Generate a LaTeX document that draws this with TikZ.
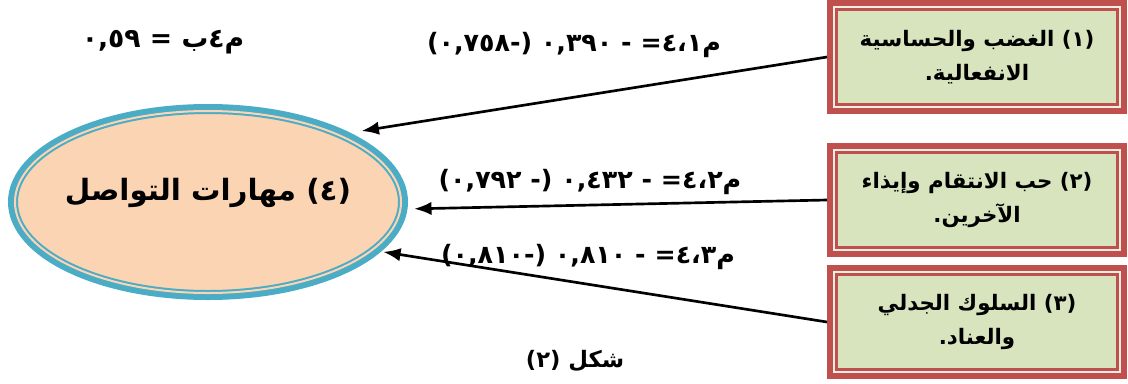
\documentclass[tikz,border=0pt]{standalone}
\usepackage{fontspec}
\usepackage{tikz}
\usetikzlibrary{shapes.geometric, arrows.meta, positioning}
\usepackage{xcolor}
\TeXXeTstate=1
\newfontfamily\arabicfont[Script=Arabic]{DejaVu Sans}
\definecolor{boxred}{RGB}{192,80,77}
\definecolor{boxcream}{RGB}{240,238,226}
\definecolor{boxgreen}{RGB}{215,228,189}
\definecolor{ellblue}{RGB}{75,172,198}
\definecolor{ellpeach}{RGB}{251,212,180}

\begin{document}
\begin{tikzpicture}[
    x=0.75pt, y=-0.75pt,
    factor/.style={rectangle, fill=boxgreen, draw=boxred, line width=1.9pt, double=boxcream, double distance=1.5pt,
        preaction={draw=boxred, line width=10.5pt}, minimum width=214.5pt, minimum height=75pt,
        outer sep=5.25pt, inner sep=0pt, align=center, font=\arabicfont\bfseries\fontsize{16}{26}\selectfont},
    skill/.style={ellipse, fill=ellpeach, draw=ellblue, line width=1.5pt, double=ellpeach, double distance=1.5pt,
        preaction={draw=ellblue, line width=10.5pt}, minimum width=289.5pt, minimum height=136.5pt,
        outer sep=5.25pt, inner sep=0pt, font=\arabicfont\bfseries\fontsize{22}{26}\selectfont},
    arr/.style={-{Latex[length=13pt, width=10pt]}, line width=2pt},
    lbl/.style={font=\arabicfont\bfseries\fontsize{19}{22}\selectfont},
    node distance=21.75pt
]
\useasboundingbox (0,0) rectangle (1128,383);

\node[skill] (ell) at (208,202) {\makebox[0pt]{\raisebox{1pt}[0pt][0pt]{\beginR (٤) مهارات التواصل\endR}}};

\node[factor] (f1) at (977,57) {\beginR (١) الغضب والحساسية\endR\\ \beginR الانفعالية.\endR};
\node[factor, below=of f1] (f2) {\beginR (٢) حب الانتقام وإيذاء\endR\\ \beginR الآخرين.\endR};
\node[factor, below=6pt of f2] (f3) {\beginR (٣) السلوك الجدلي\endR\\ \beginR والعناد.\endR};

\draw[arr, shorten >=9pt] (f1.west) -- (ell.26);
\draw[arr, shorten >=5pt] (f2.west) -- (ell.-2);
\draw[arr, shorten >=2pt] (f3.west) -- (ell.-16);

\node[lbl, font=\arabicfont\bfseries\fontsize{20}{22}\selectfont] (mb) at (163,42) {\beginR م٤ب = ٠,٥٩\endR};
\node[lbl] (m1) at (574,45) {\beginR م٤،١= - ٠,٣٩٠ (-٠,٧٥٨)\endR};
\node[lbl] (m2) at (590,182) {\beginR م٤،٢= - ٠,٤٣٢ (- ٠,٧٩٢)\endR};
\node[lbl] (m3) at (588,257) {\beginR م٤،٣= - ٠,٨١٠ (-٠,٨١٠)\endR};
\node[lbl, font=\arabicfont\bfseries\fontsize{17}{22}\selectfont] (fig) at (575,361) {\beginR شكل (٢)\endR};
\end{tikzpicture}
\end{document}
